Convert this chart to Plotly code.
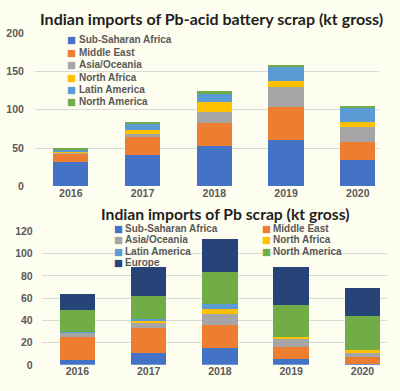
import plotly.graph_objects as go

years = ["2016", "2017", "2018", "2019", "2020"]

# Chart 1: Pb-acid battery scrap (kt gross)
bat_sub_saharan = [31.6, 41.3, 53.2, 60.8, 34.2]
bat_middle_east = [11.0, 23.3, 29.5, 43.4, 23.6]
bat_asia_oceania = [1.5, 4.2, 14.3, 25.8, 19.0]
bat_north_africa = [1.0, 5.0, 13.5, 7.6, 7.1]
bat_latin_america = [2.5, 7.6, 11.0, 17.7, 18.3]
bat_north_america = [3.0, 2.1, 2.5, 2.9, 2.8]

# Chart 2: Pb scrap (kt gross)
pb_sub_saharan = [4.5, 10.4, 15.1, 5.0, 1.0]
pb_middle_east = [21.0, 22.6, 20.7, 11.0, 6.2]
pb_asia_oceania = [4.0, 5.0, 10.2, 8.2, 4.6]
pb_north_africa = [0.0, 2.2, 4.4, 0.6, 1.2]
pb_latin_america = [0.5, 1.3, 4.4, 0.0, 0.0]
pb_north_america = [19.0, 20.8, 28.8, 29.0, 31.3]
pb_europe = [14.7, 25.4, 29.4, 34.2, 24.7]

colors = {
    "Sub-Saharan Africa": "#4472C4",
    "Middle East": "#ED7D31",
    "Asia/Oceania": "#A5A5A5",
    "North Africa": "#FFC000",
    "Latin America": "#5B9BD5",
    "North America": "#70AD47",
    "Europe": "#264478",
}

W, H = 400, 391
FONT = "Liberation Sans"
TXT = "#595959"
BG = "#FEFEF0"

fig = go.Figure()

top_series = [
    ("Sub-Saharan Africa", bat_sub_saharan),
    ("Middle East", bat_middle_east),
    ("Asia/Oceania", bat_asia_oceania),
    ("North Africa", bat_north_africa),
    ("Latin America", bat_latin_america),
    ("North America", bat_north_america),
]
for name, vals in top_series:
    fig.add_trace(go.Bar(
        x=years, y=vals, name=name, marker_color=colors[name],
        marker_line_width=0, width=0.49, xaxis="x", yaxis="y",
        showlegend=False,
    ))

bot_series = [
    ("Sub-Saharan Africa", pb_sub_saharan),
    ("Middle East", pb_middle_east),
    ("Asia/Oceania", pb_asia_oceania),
    ("North Africa", pb_north_africa),
    ("Latin America", pb_latin_america),
    ("North America", pb_north_america),
    ("Europe", pb_europe),
]
for name, vals in bot_series:
    fig.add_trace(go.Bar(
        x=years, y=vals, name=name, marker_color=colors[name],
        marker_line_width=0, width=0.5, xaxis="x2", yaxis="y2",
        showlegend=False,
    ))

tick_font = dict(family=FONT, size=10.5, color=TXT, weight="bold")
leg_font = dict(family=FONT, size=10, color=TXT, weight="bold")
sw_font = dict(family="DejaVu Sans", size=9.5)

annotations = []

def legend_entry(name, sx, tx, py):
    yy = 1 - py / H
    annotations.append(dict(text="■", x=sx / W, y=yy, xref="paper", yref="paper",
                            showarrow=False, xanchor="center", yanchor="middle",
                            borderpad=0, font=dict(sw_font, color=colors[name])))
    annotations.append(dict(text=name, x=tx / W, y=yy, xref="paper", yref="paper",
                            showarrow=False, xanchor="left", yanchor="middle",
                            borderpad=0, font=leg_font))

# Legend for chart 1 (single column)
for i, (name, _) in enumerate(top_series):
    legend_entry(name, 71.5, 77.5, 35 + 12.8 * i)

# Legend for chart 2 (two columns)
col_sw = [118, 266]
col_tx = [123.5, 272]
for i, (name, _) in enumerate(bot_series):
    r, c = divmod(i, 2)
    legend_entry(name, col_sw[c], col_tx[c], 230 + 11.4 * r)

title_font = dict(family="Lato", size=16, color="#1F1F1F", weight="bold")
annotations.append(dict(text="Indian imports of Pb-acid battery scrap (kt gross)",
                        x=211 / W, y=1 - 12.5 / H, xref="paper", yref="paper",
                        showarrow=False, xanchor="center", yanchor="middle",
                        borderpad=0, font=title_font))
annotations.append(dict(text="Indian imports of Pb scrap (kt gross)",
                        x=225 / W, y=1 - 215 / H, xref="paper", yref="paper",
                        showarrow=False, xanchor="center", yanchor="middle",
                        borderpad=0, font=dict(title_font, size=15.7)))

fig.update_layout(
    width=W, height=H,
    margin=dict(l=0, r=0, t=0, b=0),
    paper_bgcolor=BG, plot_bgcolor=BG,
    barmode="stack",
    showlegend=False,
    xaxis=dict(domain=[34.9 / W, 379.3 / W], range=[-0.5, 4.3],
               showgrid=False, tickfont=tick_font, ticks="",
               ticklabelstandoff=-1,
               anchor="y", showline=False),
    yaxis=dict(domain=[1 - 186 / H, 1 - 28 / H], range=[0, 200],
               dtick=50, gridcolor="#D9D9D9", gridwidth=1,
               tickfont=tick_font, ticklabelstandoff=10,
               zeroline=False, anchor="x"),
    xaxis2=dict(domain=[41.7 / W, 386.7 / W], range=[-0.5, 4.34],
                showgrid=False, tickfont=tick_font, ticks="",
                ticklabelstandoff=-1,
                anchor="y2", showline=False),
    yaxis2=dict(domain=[1 - 370.2 / H, 1 - 232.7 / H], range=[0, 120],
                dtick=20, gridcolor="#D9D9D9", gridwidth=1,
                tickfont=tick_font, ticklabelstandoff=8,
                zeroline=False, anchor="x2"),
    annotations=annotations,
)

fig.write_html(
    "out.html",
    config={"displayModeBar": False},
    post_script="document.body.style.margin='0';document.body.style.background='%s';" % BG,
)
